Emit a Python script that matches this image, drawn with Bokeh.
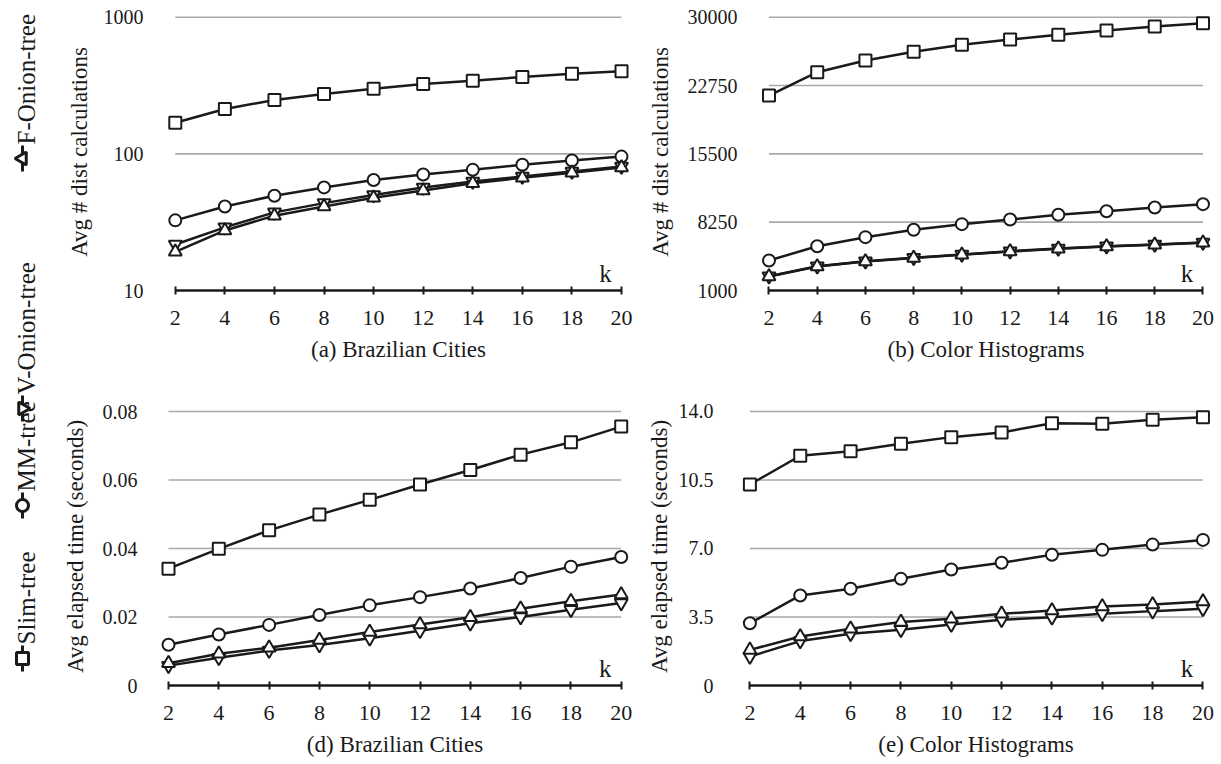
import math
from bokeh.plotting import figure
from bokeh.layouts import row, column
from bokeh.models import Range1d, FixedTicker, CustomJSTickFormatter, Label
from bokeh.embed import file_html
from bokeh.resources import INLINE
from bokeh.core.properties import value

FONT = "Liberation Serif"
INK = "#1a1a1a"
GRID = "#a9a9a9"

# ---------------- data ----------------
k = [2, 4, 6, 8, 10, 12, 14, 16, 18, 20]
x_ticks = [2, 4, 6, 8, 10, 12, 14, 16, 18, 20]
series_names = ["Slim-tree", "MM-tree", "V-Onion-tree", "F-Onion-tree"]

# (a) Brazilian Cities - avg # dist calculations (log scale)
slim_a = [169, 213, 248, 274, 300, 324, 343, 365, 385, 402]
mm_a = [32.6, 41.2, 49.4, 56.8, 64.3, 70.6, 76.4, 83.2, 89.4, 95.5]
von_a = [21.7, 29.0, 37.3, 43.6, 50.0, 56.8, 62.8, 68.3, 74.3, 80.7]
fon_a = [19.2, 27.5, 35.3, 41.2, 47.7, 54.0, 61.0, 66.8, 72.6, 79.4]
ticks_a = [10, 100, 1000]

# (b) Color Histograms - avg # dist calculations
slim_b = [21690, 24165, 25405, 26330, 27070, 27630, 28130, 28590, 29010, 29360]
mm_b = [4180, 5700, 6660, 7440, 8040, 8530, 9030, 9410, 9810, 10160]
von_b = [2520, 3580, 4110, 4470, 4820, 5170, 5460, 5700, 5880, 6090]
fon_b = [2480, 3550, 4080, 4440, 4790, 5140, 5430, 5670, 5850, 6060]
ticks_b = [1000, 8250, 15500, 22750, 30000]

# (d) Brazilian Cities - avg elapsed time (seconds)
slim_d = [0.0341, 0.0399, 0.0453, 0.0499, 0.0542, 0.0587, 0.0629, 0.0674, 0.0710, 0.0756]
mm_d = [0.0119, 0.0149, 0.0177, 0.0206, 0.0234, 0.0258, 0.0283, 0.0314, 0.0347, 0.0375]
von_d = [0.0058, 0.0081, 0.0102, 0.0118, 0.0138, 0.0160, 0.0182, 0.0200, 0.0221, 0.0241]
fon_d = [0.0065, 0.0093, 0.0110, 0.0133, 0.0156, 0.0178, 0.0199, 0.0224, 0.0246, 0.0266]
ticks_d = [0, 0.02, 0.04, 0.06, 0.08]

# (e) Color Histograms - avg elapsed time (seconds)
slim_e = [10.27, 11.74, 11.97, 12.35, 12.69, 12.93, 13.40, 13.37, 13.58, 13.71]
mm_e = [3.18, 4.60, 4.94, 5.45, 5.93, 6.27, 6.68, 6.93, 7.20, 7.44]
von_e = [1.48, 2.27, 2.64, 2.85, 3.12, 3.36, 3.49, 3.66, 3.80, 3.92]
fon_e = [1.82, 2.50, 2.90, 3.24, 3.41, 3.66, 3.83, 4.04, 4.14, 4.29]
ticks_e = [0, 3.5, 7.0, 10.5, 14.0]

markers = ["square", "circle", "inverted_triangle", "triangle"]
msizes = [12, 12, 13, 13]


def panel(xr, yr, ytype, fw, fh, bl, br, bt, bb, yticks, fmt, ylabel, title,
          ys_list, tick_sd, label_sd):
    p = figure(frame_width=fw, frame_height=fh, x_range=Range1d(*xr),
               y_range=Range1d(*yr), y_axis_type=ytype, title=None,
               output_backend="svg", toolbar_location=None,
               min_border_left=bl, min_border_right=br,
               min_border_top=bt, min_border_bottom=bb)
    p.outline_line_color = None
    p.background_fill_color = "white"
    p.border_fill_color = "white"
    p.xgrid.visible = False
    p.ygrid.visible = False

    # gridlines from tick values (excluding the axis level)
    gv = yticks[1:]
    p.segment(x0=[x_ticks[0]] * len(gv), x1=[x_ticks[-1]] * len(gv), y0=gv, y1=gv,
              line_color=GRID, line_width=1.6)

    xa = p.xaxis[0]
    xa.ticker = FixedTicker(ticks=x_ticks)
    xa.bounds = (x_ticks[0], x_ticks[-1])
    xa.axis_line_color = INK
    xa.axis_line_width = 2.5
    xa.major_tick_line_color = INK
    xa.major_tick_line_width = 2
    xa.major_tick_in = 4
    xa.major_tick_out = 4
    xa.minor_tick_line_color = None
    xa.major_label_text_font = FONT
    xa.major_label_text_font_size = "22px"
    xa.major_label_text_color = INK
    xa.major_label_standoff = 16
    xa.axis_label = title
    xa.axis_label_text_font = FONT
    xa.axis_label_text_font_size = "23px"
    xa.axis_label_text_font_style = "normal"
    xa.axis_label_text_color = INK
    xa.axis_label_standoff = 9

    ya = p.yaxis[0]
    ya.ticker = FixedTicker(ticks=yticks)
    ya.formatter = CustomJSTickFormatter(code=fmt)
    ya.axis_line_color = None
    ya.major_tick_line_color = None
    ya.minor_tick_line_color = None
    ya.major_label_text_font = FONT
    ya.major_label_text_font_size = "20px"
    ya.major_label_text_color = INK
    ya.major_label_standoff = tick_sd
    ya.axis_label = ylabel
    ya.axis_label_text_font = FONT
    ya.axis_label_text_font_size = "23px"
    ya.axis_label_text_font_style = "normal"
    ya.axis_label_text_color = INK
    ya.axis_label_standoff = label_sd

    for ys, mk, sz in zip(ys_list, markers, msizes):
        p.line(k, ys, line_color=INK, line_width=2.5)
        p.scatter(k, ys, marker=mk, size=sz, fill_color="white",
                  line_color=INK, line_width=2)

    p.add_layout(Label(x=x_ticks[-1], y=yr[0], x_offset=-16, y_offset=17, text="k",
                       text_font=FONT, text_font_size="25px", text_color=INK,
                       text_align="center", text_baseline="alphabetic"))
    return p


pa = panel((1.605, 20.403), (10, 1064.4), "log", 466, 277, 120, 5, 13, 95,
           ticks_a, "return tick.toFixed(0)", "Avg # dist calculations",
           "(a) Brazilian Cities", [slim_a, mm_a, von_a, fon_a], 16, 9)
pb = panel((1.606, 20.395), (1000, 30392), "linear", 453, 277, 123, 9, 13, 95,
           ticks_b, "return tick.toFixed(0)", "Avg # dist calculations",
           "(b) Color Histograms", [slim_b, mm_b, von_b, fon_b], 16, 12)
pd_ = panel((1.602, 20.409), (0, 0.081168), "linear", 473, 278, 113, 5, 22, 79,
            ticks_d, "return tick == 0 ? '0' : tick.toFixed(2)",
            "Avg elapsed time (seconds)", "(d) Brazilian Cities",
            [slim_d, mm_d, von_d, fon_d], 15, 12)
pe = panel((1.587, 20.379), (0, 14.204), "linear", 473, 278, 103, 9, 22, 79,
           ticks_e, "return tick == 0 ? '0' : tick.toFixed(1)",
           "Avg elapsed time (seconds)", "(e) Color Histograms",
           [slim_e, mm_e, von_e, fon_e], 20, 4)

# ---------------- rotated legend ----------------
H = 764
LW = 45
lg = figure(width=LW, height=H, x_range=Range1d(0, LW), y_range=Range1d(0, H),
            output_backend="svg", toolbar_location=None, title=None,
            x_axis_location=None, y_axis_location=None, min_border=0)
lg.outline_line_color = None
lg.xgrid.visible = False
lg.ygrid.visible = False
marker_pos = [658, 505, 408, 158]   # from top, for series_names order
text_pos = [644, 491, 394, 144]
mx, tx = 22, 26
for name, mk, sz, my, ty in zip(series_names, markers, msizes, marker_pos, text_pos):
    yy = H - my
    lg.segment(x0=[mx], x1=[mx], y0=[yy - 13], y1=[yy + 13], line_color=INK, line_width=3)
    lg.scatter([mx], [yy], marker=mk, size=sz, angle=math.pi / 2, fill_color="white",
               line_color=INK, line_width=3)
    lg.text(x=[tx], y=[H - ty], text=[name], angle=math.pi / 2,
            text_font=value(FONT), text_font_size="25px", text_color=INK,
            text_align="left", text_baseline="middle")

layout = row(lg, column(row(pa, pb), row(pd_, pe)))
open("out.html", "w").write(file_html(layout, INLINE))
